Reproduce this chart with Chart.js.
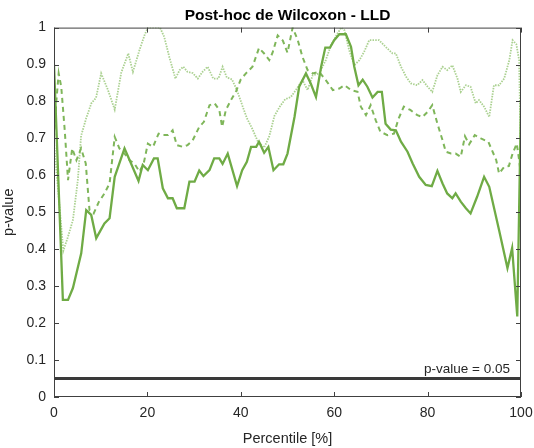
<!DOCTYPE html>
<html>
<head>
<meta charset="utf-8">
<script src="https://cdn.jsdelivr.net/npm/chart.js@4.4.1/dist/chart.umd.min.js"></script>
<style>
  html, body { margin: 0; padding: 0; background: #ffffff; }
  #wrap { width: 534px; height: 448px; }
</style>
</head>
<body>
<div id="wrap"><canvas id="c" width="534" height="448"></canvas></div>
<script>
// ---- data (percentile, p-value) ----
const solidX = [0,1.9,3.0,4.05,5.83,6.9,7.97,9.04,10.8,11.9,13.0,15.1,16.2,18.1,19.0,20.1,21.4,22.2,23.3,24.4,25.4,26.3,27.9,29.0,30.1,31.1,32.0,33.3,34.3,35.4,36.1,37.2,39.2,40.3,41.3,42.2,43.3,43.9,45.0,45.9,47.0,48.2,49.1,50.0,51.5,52.5,53.95,55.0,56.1,57.2,58.1,59.1,60.0,61.1,62.5,63.6,64.3,65.2,66.1,67.1,68.2,69.3,70.2,71.0,72.1,73.2,74.3,75.7,76.8,78.2,79.6,80.9,82.1,83.2,84.2,85.3,86.0,87.1,88.2,89.2,90.6,92.1,93.2,95.3,97.1,98.1,99.2,100];
const solidY = [0.9,0.263,0.263,0.295,0.389,0.506,0.493,0.43,0.47,0.484,0.596,0.673,0.641,0.585,0.628,0.614,0.646,0.646,0.565,0.538,0.538,0.511,0.511,0.583,0.583,0.613,0.598,0.614,0.646,0.646,0.631,0.659,0.571,0.614,0.637,0.677,0.677,0.691,0.661,0.677,0.614,0.63,0.63,0.659,0.758,0.84,0.876,0.848,0.812,0.894,0.946,0.946,0.966,0.982,0.982,0.948,0.894,0.844,0.859,0.84,0.811,0.826,0.826,0.74,0.724,0.722,0.691,0.664,0.632,0.596,0.574,0.571,0.612,0.578,0.551,0.538,0.551,0.529,0.511,0.497,0.542,0.596,0.569,0.452,0.349,0.403,0.218,0.8];

const dashedX = [0,0.5,1.0,1.55,2.3,3.0,3.9,4.8,5.8,6.8,7.6,8.5,9.6,10.8,11.9,13.0,14.0,15.1,16.2,17.2,18.3,19.2,20.1,21.2,22.4,23.4,24.4,25.4,26.3,27.6,28.6,29.7,31.1,32.1,33.3,34.4,35.4,36.0,36.8,37.9,39.0,40.0,41.1,42.5,43.9,45.0,46.1,46.8,47.9,49.0,50.0,51.1,52.2,53.2,54.3,55.4,56.8,58.2,59.7,61.1,62.2,63.6,65.0,65.7,66.8,67.8,68.9,69.9,71.4,72.8,73.8,74.9,76.3,77.8,78.9,80.0,81.0,82.1,83.2,83.9,85.0,86.0,87.1,88.0,88.9,90.1,91.4,93.0,94.7,95.3,96.4,97.4,98.2,99.1,99.6,100];
const dashedY = [0.7,0.8,0.876,0.84,0.722,0.587,0.673,0.641,0.673,0.632,0.506,0.497,0.528,0.551,0.578,0.704,0.673,0.659,0.641,0.632,0.61,0.632,0.686,0.677,0.713,0.709,0.709,0.722,0.682,0.677,0.682,0.695,0.731,0.745,0.79,0.795,0.777,0.731,0.777,0.804,0.828,0.86,0.876,0.894,0.945,0.93,0.912,0.932,0.979,0.965,0.932,1.0,0.966,0.921,0.885,0.876,0.88,0.858,0.831,0.835,0.844,0.831,0.826,0.786,0.763,0.79,0.749,0.718,0.709,0.713,0.754,0.786,0.777,0.763,0.758,0.772,0.79,0.74,0.695,0.664,0.659,0.659,0.65,0.706,0.684,0.709,0.7,0.691,0.641,0.605,0.623,0.625,0.659,0.686,0.641,0.6];

const dottedX = [0,2.0,3.0,4.05,5.1,5.8,6.9,8.0,9.0,10.1,11.5,13.0,14.4,15.9,16.9,18.3,19.4,20.1,22.7,23.6,24.7,26.0,26.9,27.7,28.6,29.7,30.8,31.8,32.9,34.1,35.2,36.1,37.0,38.1,39.2,40.3,41.3,42.5,43.6,45.0,46.1,47.2,48.4,49.5,50.7,51.8,53.2,54.3,55.4,56.8,58.2,59.3,60.7,61.5,62.2,63.2,64.3,65.4,66.4,67.5,69.6,71.0,72.5,73.2,74.3,75.4,76.4,77.8,78.9,80.0,81.0,82.1,83.2,84.2,85.3,86.4,87.1,88.2,89.2,90.3,91.0,92.1,93.2,94.2,95.3,96.4,97.5,98.2,99.0,99.6,100];
const dottedY = [0.69,0.396,0.434,0.479,0.587,0.707,0.755,0.795,0.81,0.876,0.833,0.778,0.878,0.93,0.88,0.939,0.98,1.0,1.0,0.975,0.92,0.862,0.885,0.894,0.88,0.877,0.862,0.88,0.894,0.862,0.862,0.894,0.865,0.86,0.83,0.79,0.755,0.725,0.693,0.675,0.706,0.761,0.787,0.806,0.812,0.831,0.858,0.831,0.871,0.876,0.912,0.952,0.984,1.0,0.993,0.939,0.898,0.912,0.934,0.966,0.966,0.948,0.93,0.93,0.894,0.867,0.849,0.844,0.858,0.84,0.826,0.871,0.894,0.885,0.898,0.862,0.826,0.844,0.84,0.795,0.804,0.786,0.758,0.844,0.844,0.862,0.912,0.966,0.955,0.912,0.62];

const thresholdX = [0, 100];
const thresholdY = [0.05, 0.05];
const thresholdLabel = 'p-value = 0.05';

const xTicks = [0, 20, 40, 60, 80, 100];
const yTicks = [0, 0.1, 0.2, 0.3, 0.4, 0.5, 0.6, 0.7, 0.8, 0.9, 1];

const titleText = 'Post-hoc de Wilcoxon - LLD';
const xTitle = 'Percentile [%]';
const yTitle = 'p-value';

// ---- build chart ----
const pts = (xs, ys) => xs.map((x, i) => ({ x: x, y: ys[i] }));
const FONT = "'Liberation Sans', Arial, sans-serif";
const TXT = '#262626';

const boxPlugin = {
  id: 'boxTicks',
  afterDraw(chart) {
    const ctx = chart.ctx;
    const a = chart.chartArea;
    const xs = chart.scales.x, ys = chart.scales.y;
    ctx.save();
    ctx.strokeStyle = '#404040';
    ctx.lineWidth = 1;
    ctx.strokeRect(a.left + 0.5, a.top + 0.5, a.right - a.left - 1, a.bottom - a.top - 1);
    const L = 5;
    ctx.beginPath();
    xTicks.forEach(v => {
      const p = Math.round(xs.getPixelForValue(v)) + 0.5;
      ctx.moveTo(p, a.bottom); ctx.lineTo(p, a.bottom - L);
      ctx.moveTo(p, a.top); ctx.lineTo(p, a.top + L);
    });
    yTicks.forEach(v => {
      const p = Math.round(ys.getPixelForValue(v)) + 0.5;
      ctx.moveTo(a.left, p); ctx.lineTo(a.left + L, p);
      ctx.moveTo(a.right, p); ctx.lineTo(a.right - L, p);
    });
    ctx.stroke();
    // threshold label
    ctx.fillStyle = TXT;
    ctx.font = '13.5px ' + FONT;
    ctx.textAlign = 'right';
    ctx.textBaseline = 'alphabetic';
    ctx.fillText(thresholdLabel, a.right - 11, ys.getPixelForValue(thresholdY[0]) - 6);
    ctx.restore();
  }
};

new Chart(document.getElementById('c'), {
  type: 'line',
  data: {
    datasets: [
      { data: pts(solidX, solidY), borderColor: '#6fab45', borderWidth: 2.3, pointRadius: 0, tension: 0 },
      { data: pts(dashedX, dashedY), borderColor: '#7fb65a', borderWidth: 2, borderDash: [5, 4], pointRadius: 0, tension: 0 },
      { data: pts(dottedX, dottedY), borderColor: '#abd191', borderWidth: 1.8, borderDash: [1.5, 1.2], pointRadius: 0, tension: 0 },
      { data: pts(thresholdX, thresholdY), borderColor: '#3a3a3a', borderWidth: 3, pointRadius: 0, tension: 0 }
    ]
  },
  options: {
    responsive: false,
    animation: false,
    layout: { padding: { top: 2, right: 0, left: 0, bottom: 0 } },
    plugins: {
      legend: { display: false },
      tooltip: { enabled: false },
      title: {
        display: true, text: titleText, color: '#000', fullSize: false,
        font: { family: FONT, size: 15.5, weight: 'bold' },
        padding: { top: 4, bottom: 3 }
      }
    },
    scales: {
      x: {
        type: 'linear', min: 0, max: 100,
        afterBuildTicks: s => { s.ticks = xTicks.map(v => ({ value: v })); },
        ticks: { color: TXT, font: { family: FONT, size: 14 }, padding: 8, maxRotation: 0 },
        grid: { display: false, drawTicks: false },
        border: { display: false },
        title: { display: true, text: xTitle, color: TXT, font: { family: FONT, size: 14.5 }, padding: { top: 2, bottom: 0 } },
        afterFit: s => { s.height = 51; s.paddingRight = 13; s.paddingLeft = 0; }
      },
      y: {
        type: 'linear', min: 0, max: 1,
        afterBuildTicks: s => { s.ticks = yTicks.map(v => ({ value: v })); },
        ticks: { color: TXT, font: { family: FONT, size: 14 }, padding: 8, callback: v => String(Math.round(v * 10) / 10) },
        grid: { display: false, drawTicks: false },
        border: { display: false },
        title: { display: true, text: yTitle, color: TXT, font: { family: FONT, size: 14.5 }, padding: { top: 0, bottom: 2 } },
        afterFit: s => { s.width = 54; }
      }
    }
  },
  plugins: [boxPlugin]
});
</script>
</body>
</html>
